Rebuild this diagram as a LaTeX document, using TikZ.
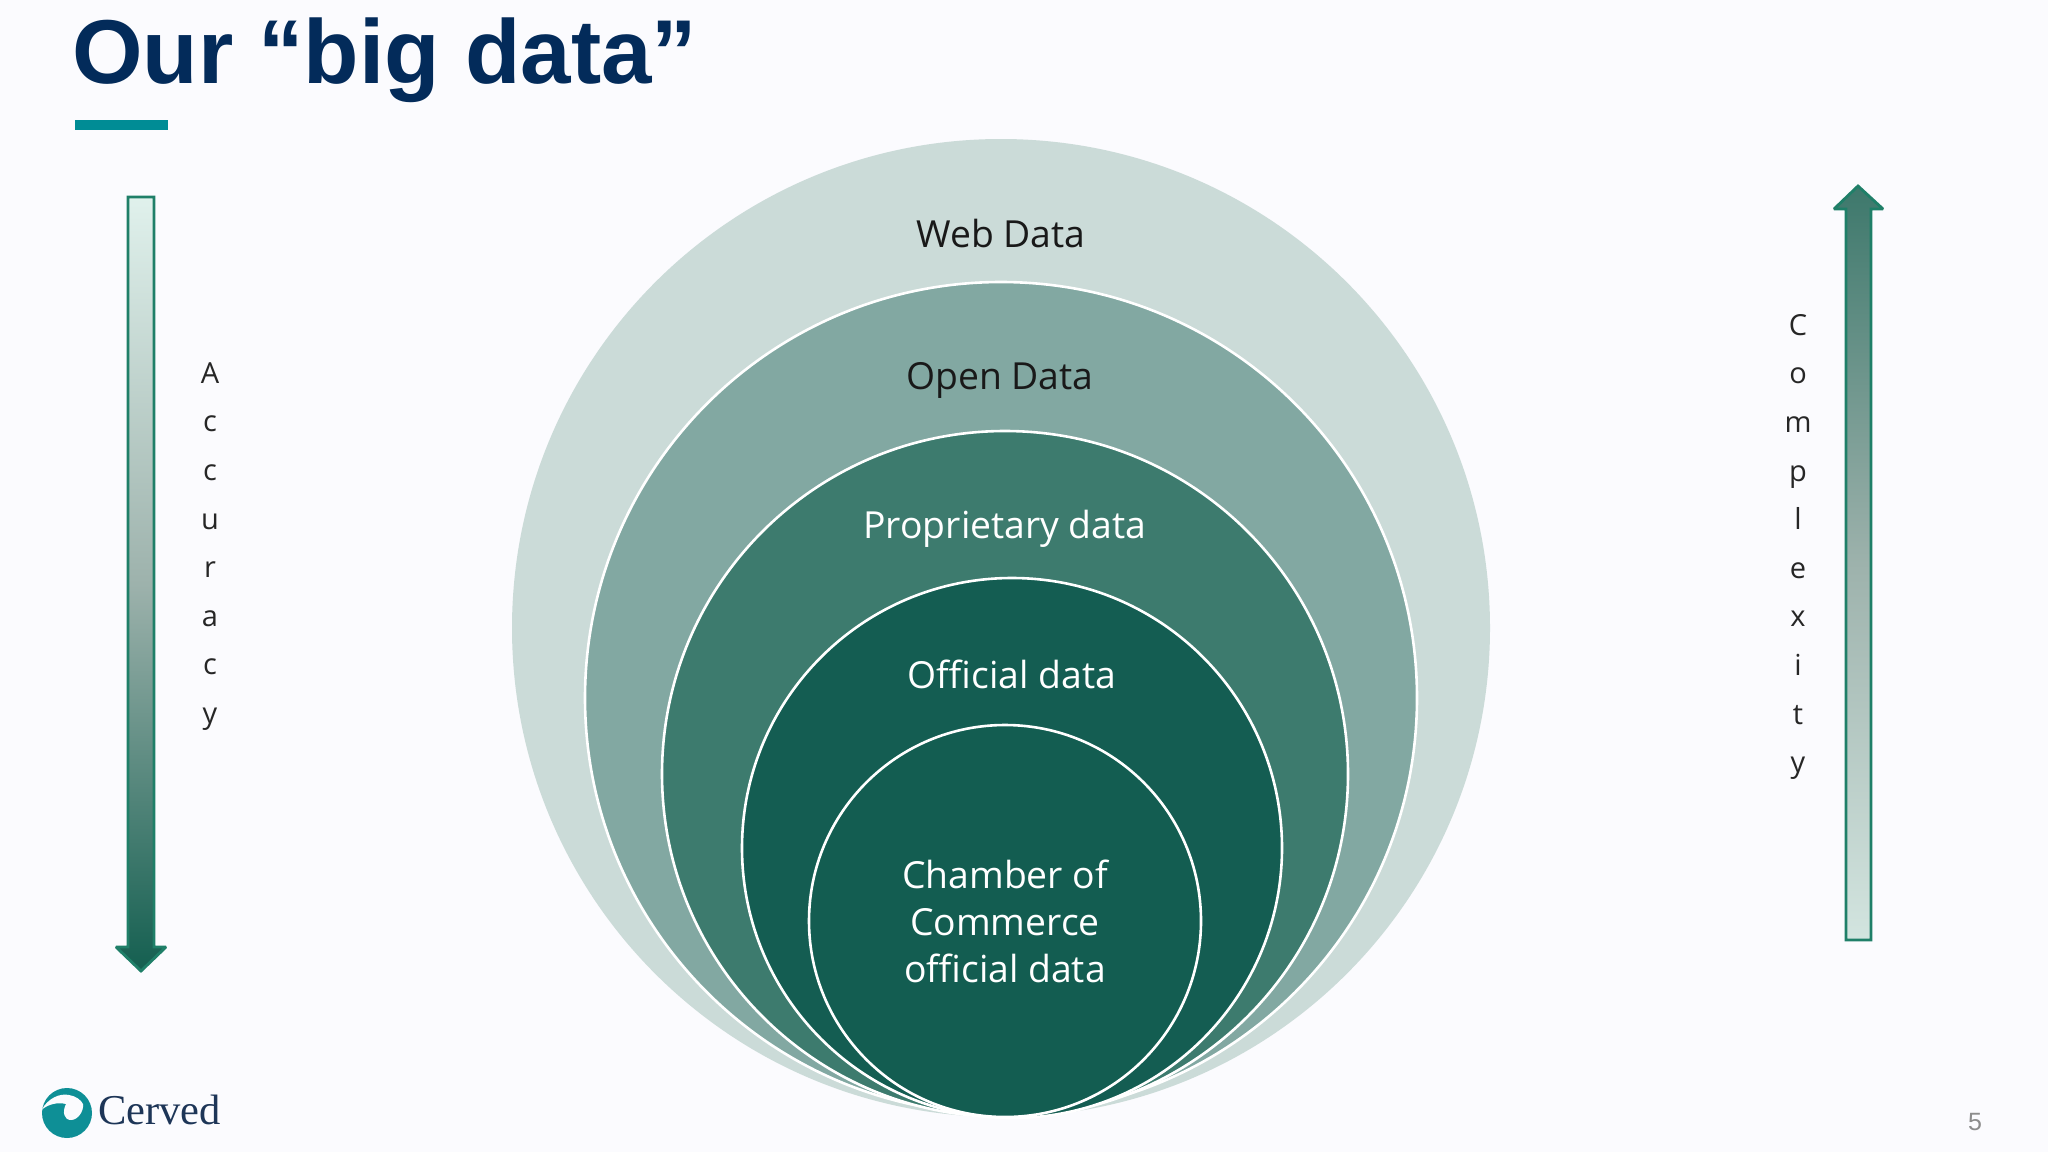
\documentclass[tikz,border=0pt]{standalone}
\usepackage{fontspec}
\setmainfont{Open Sans}
\newfontfamily\titlefont{Liberation Sans}
\newfontfamily\logofont{Liberation Serif}
\definecolor{bgc}{HTML}{FBFBFE}
\definecolor{navy}{HTML}{032B5A}
\definecolor{teal}{HTML}{008C95}
\definecolor{logoteal}{HTML}{0E8F96}
\definecolor{logonavy}{HTML}{1D3557}
\definecolor{webc}{HTML}{CBDBD8}
\definecolor{openc}{HTML}{82A8A2}
\definecolor{propc}{HTML}{3D7B6E}
\definecolor{offc}{HTML}{145D52}
\definecolor{chamc}{HTML}{135D51}
\definecolor{arrline}{HTML}{1F7F68}
\definecolor{arrdark}{HTML}{145F50}
\definecolor{arrmid}{HTML}{9DB2AC}
\definecolor{arrlight}{HTML}{E0F1EC}
\tikzset{
  ring/.style={circle,inner sep=0pt,outer sep=0pt,minimum size=2*#1*1pt,draw=white,line width=2.6pt},
  ringlabel/.style={font=\fontsize{37.3}{47}\selectfont,align=center,inner sep=0pt},
  sidelabel/.style={font=\fontsize{29}{48.6}\selectfont,align=center,inner sep=0pt,text=black!85},
  sidearrow/.style={draw=arrline,line width=2.8pt,line join=miter,miter limit=2}
}
\begin{document}
\begin{tikzpicture}[x=1pt,y=-1pt]
\useasboundingbox (0,0) rectangle (2048,1152);
\fill[bgc] (0,0) rectangle (2048,1152);
% title
\node[anchor=base west,inner sep=0pt,text=navy,font=\titlefont\bfseries\fontsize{90.7}{100}\selectfont] (title) at (72,83) {Our “big data”};
\fill[teal] (75,120) rectangle (168,130);
% circles
\node[ring=489,fill=webc,draw=none] (web) at (1001,628) {};
\node[ring=416,fill=openc] (open) at (1001,698) {};
\node[ring=343,fill=propc] (prop) at (1005,774) {};
\node[ring=270,fill=offc] (off) at (1012,848) {};
\node[ring=196,fill=chamc] (cham) at (1005,921) {};
\node[ringlabel,text=black!90] (tweb) at (1001,234) {Web Data};
\node[ringlabel,text=black!90] (topen) at (1000,380) {Open Data};
\node[ringlabel,text=white] (tprop) at (1005,529) {Proprietary data};
\node[ringlabel,text=white] (toff) at (1012,674) {Official data};
\node[ringlabel,text=white] (tcham) at (1005,921) {Chamber of\\Commerce\\official data};
% left arrow
\shade[top color=arrlight,bottom color=arrdark,middle color=arrmid]
  (128,197) -- (154,197) -- (154,947) -- (166,947) -- (141,971) -- (116,947) -- (128,947) -- cycle;
\draw[sidearrow] (128,197) -- (154,197) -- (154,947) -- (166,947) -- (141,971) -- (116,947) -- (128,947) -- cycle;
\node[sidelabel] (acc) at (210,546.5) {A\\c\\c\\u\\r\\a\\c\\y};
% right arrow
\shade[top color=arrdark!70!arrmid,bottom color=arrlight!80!arrmid,middle color=arrmid]
  (1858,186) -- (1883,209) -- (1871,209) -- (1871,940) -- (1846,940) -- (1846,209) -- (1834,209) -- cycle;
\draw[sidearrow] (1858,186) -- (1883,209) -- (1871,209) -- (1871,940) -- (1846,940) -- (1846,209) -- (1834,209) -- cycle;
\node[sidelabel] (cpx) at (1798,547) {C\\o\\m\\p\\l\\e\\x\\i\\t\\y};
% logo
\fill[logoteal] (67,1113) circle (25);
\fill[bgc] (41.5,1110) .. controls (48,1098) and (60,1093) .. (69,1095)
  .. controls (76,1096) and (81,1100) .. (83,1104)
  .. controls (84,1111) and (78,1120) .. (71,1120)
  .. controls (64,1120) and (62,1112) .. (66,1104)
  .. controls (58,1102) and (48,1104) .. (41.5,1110) -- cycle;
\node[anchor=base west,inner sep=0pt,text=logonavy,font=\logofont\fontsize{42.5}{50}\selectfont] (logo) at (98,1124) {Cerved};
% page number
\node[inner sep=0pt,text=black!45,font=\titlefont\fontsize{25}{30}\selectfont] (page) at (1975,1122) {5};
\end{tikzpicture}
\end{document}
